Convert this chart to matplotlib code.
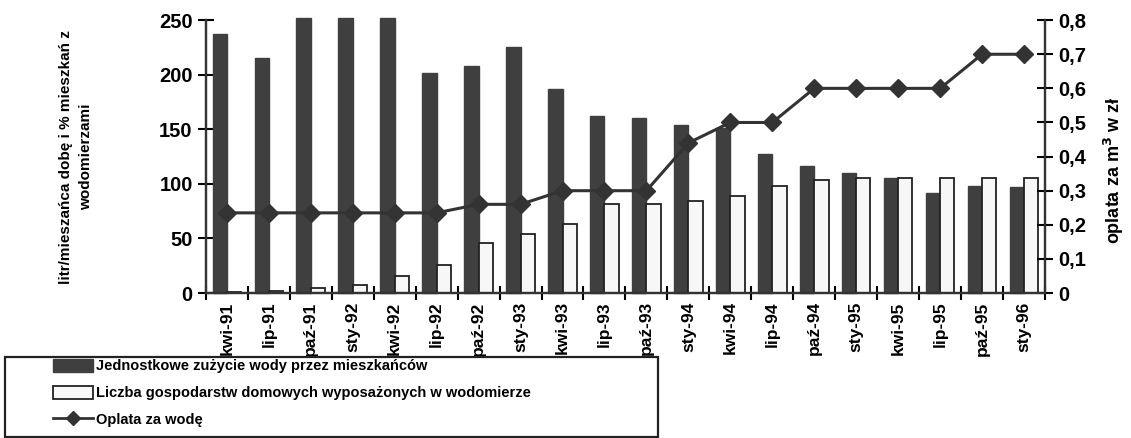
#/usr/bin/env python

import numpy as np
from matplotlib import pyplot as plt
from matplotlib.patches import Patch, Rectangle
from matplotlib.lines import Line2D

plt.rcParams['font.family'] = ['Liberation Sans', 'DejaVu Sans']
plt.rcParams['font.weight'] = 'bold'
plt.rcParams['axes.labelweight'] = 'bold'

# Data
months = ['kwi-91', 'lip-91', 'paź-91', 'sty-92', 'kwi-92', 'lip-92', 'paź-92',
          'sty-93', 'kwi-93', 'lip-93', 'paź-93', 'sty-94', 'kwi-94', 'lip-94',
          'paź-94', 'sty-95', 'kwi-95', 'lip-95', 'paź-95', 'sty-96']
zuzycie = [237, 215, 252, 252, 252, 202, 208, 225, 187, 162, 160, 154, 151, 127,
           116, 110, 105, 92, 98, 97]
wodomierze = [1, 2, 5, 7, 16, 26, 46, 54, 63, 82, 82, 84, 89, 98,
              104, 105, 105, 105, 105, 105]
oplata = [0.235, 0.235, 0.235, 0.235, 0.235, 0.235, 0.26, 0.26, 0.30, 0.30,
          0.30, 0.44, 0.50, 0.50, 0.60, 0.60, 0.60, 0.60, 0.70, 0.70]

dark = '#3f3f3f'
x = np.arange(len(months))
w = 0.34

fig = plt.figure(figsize=(11.31, 4.38), dpi=100)
ax = fig.add_axes([0.182, 0.331, 0.742, 0.623])
ax2 = ax.twinx()

ax.bar(x - w / 2, zuzycie, w, color=dark, edgecolor=dark, clip_on=False, zorder=2)
ax.bar(x + w / 2, wodomierze, w, color='#f7f7f7', edgecolor='#222222',
       linewidth=1.3, zorder=2)
ax2.plot(x, oplata, color='#333333', lw=2.2, marker='D', ms=9,
         markerfacecolor='#333333', zorder=3)

ax.set_xlim(-0.5, len(months) - 0.5)
ax.set_ylim(0, 250)
ax2.set_ylim(0, 0.8)

ax.set_yticks(np.arange(0, 251, 50))
ax2.set_yticks(np.arange(0, 0.81, 0.1))
ax2.set_yticklabels(['0'] + ['0,%d' % i for i in range(1, 9)])

ax.set_xticks(x)
ax.set_xticklabels(months, rotation=90, fontsize=12.5)
ax.set_xticks(np.arange(-0.5, len(months)), minor=True)
ax.tick_params(axis='x', which='major', length=0, pad=6)
ax.tick_params(axis='x', which='minor', direction='inout', length=10, width=1.5)
ax.tick_params(axis='y', direction='inout', length=12, width=1.5, labelsize=14.5)
ax2.tick_params(axis='y', direction='inout', length=12, width=1.5, labelsize=14.5)

for a in (ax, ax2):
    a.spines['top'].set_visible(False)
    for s in ('left', 'right', 'bottom'):
        a.spines[s].set_linewidth(1.6)
        a.spines[s].set_color('#333333')

ax.set_ylabel('litr/mieszańca dobę i % mieszkań z\nwodomierzami', fontsize=11,
              linespacing=1.5)
ax.yaxis.set_label_coords(-0.135, 0.5)
ax2.set_ylabel('oplata za m$^3$ w zł', fontsize=13)
ax2.yaxis.set_label_coords(1.068, 0.45)

# legend box drawn separately so the handles can sit indented as in the scan
fig.patches.append(Rectangle((5 / 1131, 1 / 438), 653 / 1131, 80 / 438,
                             transform=fig.transFigure, fill=False,
                             edgecolor='#222222', linewidth=1.6))
handles = [Patch(facecolor=dark, edgecolor=dark),
           Patch(facecolor='#f7f7f7', edgecolor='#222222', linewidth=1.3),
           Line2D([], [], color='#333333', lw=2, marker='D', ms=7)]
labels = ['Jednostkowe zużycie wody przez mieszkańców',
          'Liczba gospodarstw domowych wyposażonych w wodomierze',
          'Oplata za wodę']
leg = fig.legend(handles, labels, loc='upper left',
                 bbox_to_anchor=(47 / 1131, 1 - 353 / 438),
                 prop={'weight': 'bold', 'size': 10.5},
                 handlelength=2.75, handletextpad=0.2, borderaxespad=0,
                 labelspacing=0.85, frameon=False, handleheight=1.0)

plt.savefig('out.png', dpi=100)
